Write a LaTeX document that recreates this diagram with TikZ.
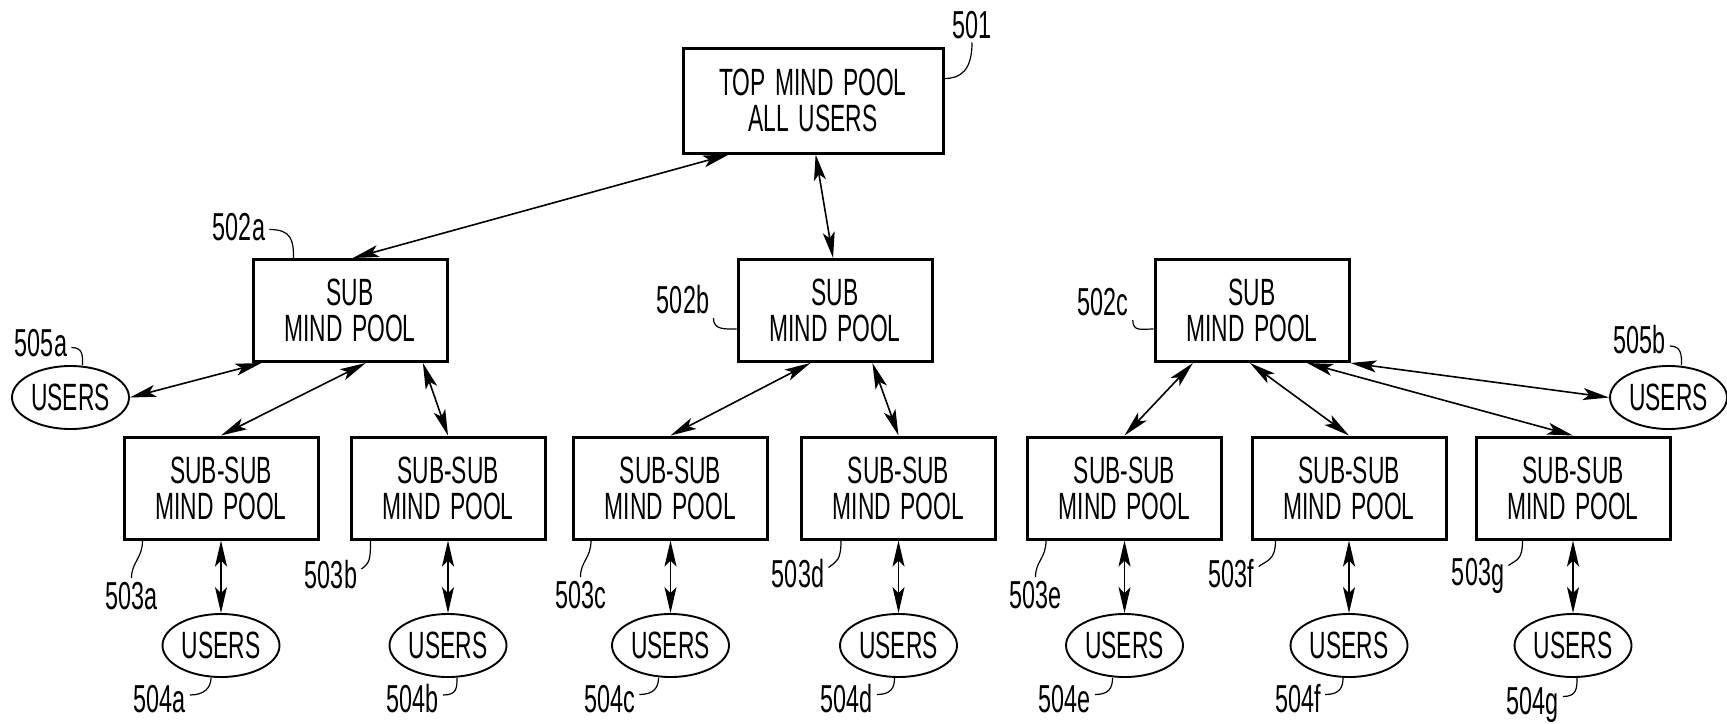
\documentclass[tikz,border=0pt]{standalone}
\usepackage{fontspec}
\setmainfont{Liberation Sans}[FakeStretch=0.6,WordSpace=1.5]
\usetikzlibrary{arrows.meta,shapes.geometric,calc}
\newcommand\boxfnt{\fontsize{19pt}{18pt}\selectfont}
\newcommand\labfnt{\fontsize{19.5pt}{19pt}\selectfont}
\begin{document}
\begin{tikzpicture}[x=0.5pt,y=-0.5pt,
  poolbox/.style={draw,line width=1.5pt,minimum width=97pt,minimum height=51pt,inner sep=0pt,align=center,font=\boxfnt},
  usr/.style={draw,ellipse,line width=0.95pt,minimum width=58.5pt,minimum height=31.5pt,inner sep=0pt,font=\boxfnt},
  lab/.style={font=\labfnt,inner sep=2pt,text height=13.6pt,text depth=0pt},
  conn/.style={{Stealth[length=13pt,width=6pt,inset=3pt]}-{Stealth[length=13pt,width=6pt,inset=3pt]},line width=0.8pt},
  lead/.style={line width=0.6pt}]
\useasboundingbox (0,0) rectangle (1727,723);

% boxes
\node[poolbox,minimum width=130pt,minimum height=52.5pt] (top) at (813,100.5) {TOP MIND POOL\\ALL USERS};
\node[poolbox] (s1) at (350,310.5) {SUB\\MIND POOL};
\node[poolbox] (s2) at (835,310.5) {SUB\\MIND POOL};
\node[poolbox] (s3) at (1252,310.5) {SUB\\MIND POOL};
\foreach \i/\xx in {1/221,2/448,3/670.5,4/898.5,5/1124.5,6/1349,7/1573}{
  \node[poolbox] (ss\i) at (\xx,488) {SUB-SUB\\MIND POOL};
  \node[usr] (u\i) at (\xx,645.5) {USERS};
}
\node[usr] (ua) at (70.5,397.5) {USERS};
\node[usr] (ub) at (1668.5,397.5) {USERS};

% connectors
\draw[conn] ($(top.south west)!0.18!(top.south east)$) -- ($(s1.north west)!0.515!(s1.north east)$);
\draw[conn] ($(top.south west)!0.51!(top.south east)$) -- ($(s2.north west)!0.49!(s2.north east)$);
\draw[conn] ($(s1.south west)!0.05!(s1.south east)$) -- (ua.east);
\draw[conn] ($(s1.south west)!0.58!(s1.south east)$) -- (ss1.north);
\draw[conn] ($(s1.south west)!0.87!(s1.south east)$) -- (ss2.north);
\draw[conn] ($(s2.south west)!0.375!(s2.south east)$) -- (ss3.north);
\draw[conn] ($(s2.south west)!0.69!(s2.south east)$) -- (ss4.north);
\draw[conn] ($(s3.south west)!0.2!(s3.south east)$) -- (ss5.north);
\draw[conn] ($(s3.south west)!0.49!(s3.south east)$) -- (ss6.north);
\draw[conn] ($(s3.south west)!0.78!(s3.south east)$) -- (ss7.north);
\draw[conn] (s3.south east) -- (ub.west);
\foreach \i in {1,...,7}{\draw[conn] (ss\i.south) -- (u\i.north);}

% labels
\node[lab] (l501) at (972,24.5) {501};
\node[lab] (l502a) at (239,226.5) {502a};
\node[lab] (l502b) at (683,300) {502b};
\node[lab] (l502c) at (1103,302) {502c};
\node[lab] (l505a) at (41,342.5) {505a};
\node[lab] (l505b) at (1639.5,340) {505b};
\node[lab] (l503a) at (131.5,596) {503a};
\node[lab] (l503b) at (331,575) {503b};
\node[lab] (l503c) at (580.5,595) {503c};
\node[lab] (l503d) at (798,573.5) {503d};
\node[lab] (l503e) at (1035.5,595) {503e};
\node[lab] (l503f) at (1231.5,573.5) {503f};
\node[lab] (l503g) at (1478,571.5) {503g};
\node[lab] (l504a) at (159.5,699) {504a};
\node[lab] (l504b) at (412.5,699) {504b};
\node[lab] (l504c) at (609.5,698.5) {504c};
\node[lab] (l504d) at (846.5,698.5) {504d};
\node[lab] (l504e) at (1064.5,698.5) {504e};
\node[lab] (l504f) at (1298,698.5) {504f};
\node[lab] (l504g) at (1532.5,700.5) {504g};

% leaders
\draw[lead] (l501.south) .. controls +(0,28) and +(16,0) .. ($(top.north east)+(0,32)$);
\draw[lead] ($(l502a.east)+(0,3)$) .. controls +(22,0) and +(0,-18) .. ($(s1.north west)+(42,0)$);
\draw[lead] (l502b.south east) .. controls +(0,12) and +(-12,0) .. ($(s2.north west)+(0,71)$);
\draw[lead] (l502c.south east) .. controls +(0,12) and +(-12,0) .. ($(s3.north west)+(0,71)$);
\draw[lead] ($(l505a.east)+(0,5)$) .. controls +(12,0) and +(0,-9) .. ($(ua.north)+(12,0)$);
\draw[lead] ($(l505b.east)+(0,6)$) .. controls +(12,0) and +(0,-9) .. ($(ub.north)+(13,0)$);
\draw[lead] ($(ss1.south west)+(20,0)$) .. controls +(0,18) and +(0,-16) .. (l503a.north);
\draw[lead] ($(ss3.south west)+(19,0)$) .. controls +(0,18) and +(0,-16) .. (l503c.north);
\draw[lead] ($(ss5.south west)+(20,0)$) .. controls +(0,18) and +(0,-16) .. (l503e.north);
\draw[lead] ($(ss2.south west)+(21,0)$) .. controls +(0,20) and +(8,-6) .. ($(l503b.east)+(0,-6)$);
\draw[lead] ($(ss4.south west)+(41,0)$) .. controls +(0,20) and +(8,-6) .. ($(l503d.east)+(0,-6)$);
\draw[lead] ($(ss6.south west)+(25,0)$) .. controls +(0,20) and +(8,-6) .. ($(l503f.east)+(0,-7)$);
\draw[lead] ($(ss7.south west)+(48,0)$) .. controls +(0,20) and +(8,-6) .. ($(l503g.east)+(0,-6)$);
\draw[lead] ($(l504a.east)+(0,-4)$) .. controls +(14,0) and +(0,10) .. ($(u1.south)+(-10,0)$);
\draw[lead] ($(l504b.east)+(0,-4)$) .. controls +(14,0) and +(0,10) .. ($(u2.south)+(9,0)$);
\draw[lead] ($(l504c.east)+(0,-4)$) .. controls +(14,0) and +(0,10) .. ($(u3.south)+(-12,0)$);
\draw[lead] ($(l504d.east)+(0,-4)$) .. controls +(14,0) and +(0,10) .. ($(u4.south)+(-4,0)$);
\draw[lead] ($(l504e.east)+(0,-4)$) .. controls +(14,0) and +(0,10) .. ($(u5.south)+(-12,0)$);
\draw[lead] ($(l504f.east)+(0,-4)$) .. controls +(14,0) and +(0,10) .. ($(u6.south)+(-6,0)$);
\draw[lead] ($(l504g.east)+(0,-4)$) .. controls +(14,0) and +(0,10) .. ($(u7.south)+(4,0)$);
\end{tikzpicture}
\end{document}
